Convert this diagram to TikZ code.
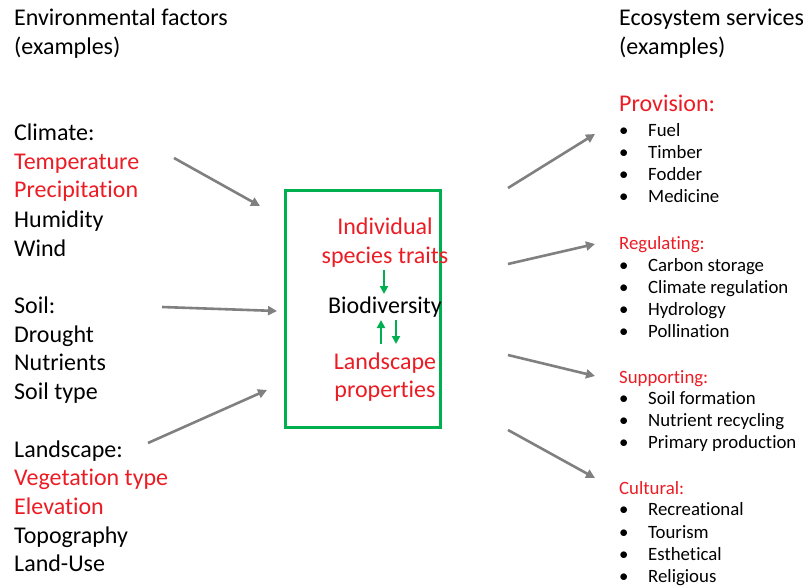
\documentclass[tikz,border=0pt]{standalone}
\usepackage{fontspec}
\setmainfont{Carlito}[Ligatures=NoCommon]
\usetikzlibrary{arrows.meta}
\definecolor{flowgray}{RGB}{128,128,128}
\definecolor{boxgreen}{RGB}{0,176,80}
\definecolor{hired}{RGB}{235,28,36}
\tikzset{
  big/.style={anchor=base west, inner sep=0pt, font=\fontsize{24}{29}\selectfont},
  mid/.style={anchor=base west, inner sep=0pt, font=\fontsize{18.8}{22}\selectfont},
  ctr/.style={anchor=base, inner sep=0pt, font=\fontsize{24}{29}\selectfont},
  hl/.style={text=hired},
  bul/.style={anchor=base west, inner sep=0pt, font=\fontsize{18.8}{22}\selectfont},
  flow/.style={draw=flowgray, line width=2.6pt, -{Triangle[length=9pt,width=9pt]}},
  link/.style={draw=boxgreen, line width=2.6pt, -{Triangle[length=8pt,width=8pt]}},
}
\newcommand{\svcitem}[3]{%
  \node[bul] (#1b) at (619,#2) {\textbullet};
  \node[bul] (#1) at (648,#2) {#3};}
\begin{document}
\begin{tikzpicture}[x=1pt,y=-1pt]
\useasboundingbox (0,0) rectangle (803,588);

% drivers on the left
\node[big] (envA) at (14,26) {Environmental factors};
\node[big] (envB) at (14,55) {(examples)};
\node[big] (cl)  at (14,141) {Climate:};
\node[big,hl] (cl1) at (14,170) {Temperature};
\node[big,hl] (cl2) at (14,198) {Precipitation};
\node[big] (cl3) at (14,227) {Humidity};
\node[big] (cl4) at (14,256) {Wind};
\node[big] (so)  at (14,313) {Soil:};
\node[big] (so1) at (14,342) {Drought};
\node[big] (so2) at (14,370) {Nutrients};
\node[big] (so3) at (14,399) {Soil type};
\node[big] (la)  at (14,457) {Landscape:};
\node[big,hl] (la1) at (14,485) {Vegetation type};
\node[big,hl] (la2) at (14,514) {Elevation};
\node[big] (la3) at (14,543) {Topography};
\node[big] (la4) at (14,571) {Land-Use};

% central box
\node[draw=boxgreen, line width=2.6pt, minimum width=155pt, minimum height=237pt, inner sep=0pt] (core) at (363,309) {};
\node[ctr,hl] (ist1) at (385,234) {Individual};
\node[ctr,hl] (ist2) at (385,263) {species traits};
\node[ctr] (bio) at (385,313) {Biodiversity};
\node[ctr,hl] (lp1) at (385,369) {Landscape};
\node[ctr,hl] (lp2) at (385,397) {properties};
\coordinate (a1s) at (384,270);
\coordinate (a1e) at (384,294);
\coordinate (a2s) at (381,344);
\coordinate (a2e) at (381,320);
\coordinate (a3s) at (396,320);
\coordinate (a3e) at (396,344);
\draw[link] (a1s) -- (a1e);
\draw[link] (a2s) -- (a2e);
\draw[link] (a3s) -- (a3e);

% services on the right
\node[big] (esA) at (619,26) {Ecosystem services};
\node[big] (esB) at (619,55) {(examples)};
\node[big,hl] (pr) at (619,112) {Provision:};
\svcitem{pr1}{137}{Fuel}
\svcitem{pr2}{159}{Timber}
\svcitem{pr3}{181}{Fodder}
\svcitem{pr4}{203}{Medicine}
\node[mid,hl] (re) at (619,249) {Regulating:};
\svcitem{re1}{271}{Carbon storage}
\svcitem{re2}{293}{Climate regulation}
\svcitem{re3}{315}{Hydrology}
\svcitem{re4}{337}{Pollination}
\node[mid,hl] (su) at (619,383) {Supporting:};
\svcitem{su1}{404}{Soil formation}
\svcitem{su2}{426}{Nutrient recycling}
\svcitem{su3}{448}{Primary production}
\node[mid,hl] (cu) at (619,494) {Cultural:};
\svcitem{cu1}{515}{Recreational}
\svcitem{cu2}{538}{Tourism}
\svcitem{cu3}{560}{Esthetical}
\svcitem{cu4}{582}{Religious}

% gray flow arrows
\coordinate (l1s) at (174,158); \coordinate (l1e) at (260,206);
\coordinate (l2s) at (162,307); \coordinate (l2e) at (277,311);
\coordinate (l3s) at (148,443); \coordinate (l3e) at (267,390);
\coordinate (r1s) at (508,188); \coordinate (r1e) at (595,134);
\coordinate (r2s) at (508,264); \coordinate (r2e) at (595,244);
\coordinate (r3s) at (508,355); \coordinate (r3e) at (595,376);
\coordinate (r4s) at (508,430); \coordinate (r4e) at (595,478);
\foreach \s/\e in {l1s/l1e,l2s/l2e,l3s/l3e,r1s/r1e,r2s/r2e,r3s/r3e,r4s/r4e}
  \draw[flow] (\s) -- (\e);
\end{tikzpicture}
\end{document}
